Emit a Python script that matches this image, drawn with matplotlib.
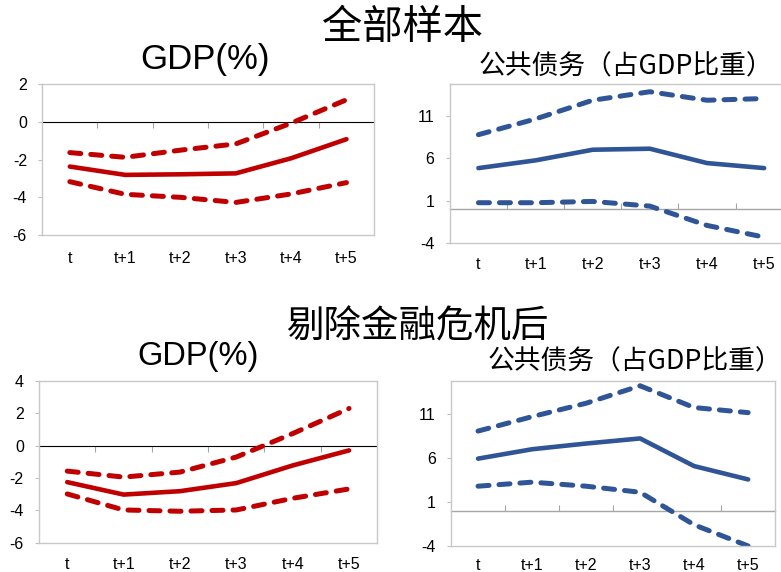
#Impulse responses of GDP and public debt, full sample and excluding financial crises.
#Each panel shows the point estimate (solid) and the confidence band (dashed).


import numpy as np
from matplotlib import pyplot as plt


#Horizon labels shared by all panels
horizons = ['t', 't+1', 't+2', 't+3', 't+4', 't+5']


#Full sample, GDP (%)
gdp_all_mid = [-2.37, -2.81, -2.78, -2.73, -1.93, -0.92]
gdp_all_hi = [-1.63, -1.88, -1.50, -1.17, -0.07, 1.17]
gdp_all_lo = [-3.17, -3.84, -4.00, -4.27, -3.82, -3.22]

#Full sample, public debt (% of GDP)
debt_all_mid = [4.82, 5.73, 6.98, 7.10, 5.41, 4.82]
debt_all_hi = [8.75, 10.6, 12.8, 13.8, 12.8, 13.0]
debt_all_lo = [0.75, 0.75, 0.90, 0.35, -1.92, -3.30]

#Excluding financial crises, GDP (%)
gdp_ex_mid = [-2.25, -3.02, -2.81, -2.31, -1.22, -0.29]
gdp_ex_hi = [-1.57, -1.94, -1.63, -0.70, 0.75, 2.30]
gdp_ex_lo = [-2.98, -3.97, -4.05, -3.97, -3.25, -2.67]

#Excluding financial crises, public debt (% of GDP)
debt_ex_mid = [5.95, 7.02, 7.67, 8.25, 5.10, 3.58]
debt_ex_hi = [9.09, 10.73, 12.26, 14.25, 11.77, 11.19]
debt_ex_lo = [2.81, 3.27, 2.81, 2.12, -1.59, -4.00]


#Y axis settings for each panel
gdp_all_ticks = [-6, -4, -2, 0, 2]
gdp_ex_ticks = [-6, -4, -2, 0, 2, 4]
debt_ticks = [-4, 1, 6, 11]


RED = '#c00000'
BLUE = '#2f5597'
LATIN = ['Liberation Sans', 'Noto Sans CJK SC']
CJK = ['Noto Sans CJK SC', 'DejaVu Sans']



def Panel(fig, rect, mid, hi, lo, color, yticks, ylim, xpad):

    ax = fig.add_axes(rect)
    x = np.arange(len(horizons))

    #Confidence band first, then the point estimate on top
    for band in (hi, lo):
        ax.plot(x, band, color=color, lw=3.6, dashes=(2.2, 2.0),
                dash_capstyle='round', dash_joinstyle='round')
    ax.plot(x, mid, color=color, lw=3.3, solid_capstyle='round',
            solid_joinstyle='round')

    ax.set_xlim(-0.5, len(horizons) - 0.5)
    ax.set_ylim(*ylim)

    #Category labels along the bottom, no tick marks
    ax.set_xticks(x)
    ax.set_xticklabels(horizons, family=LATIN, fontsize=11.5)
    ax.tick_params(axis='x', length=0, pad=xpad)

    ax.set_yticks(yticks)
    ax.set_yticklabels([str(v) for v in yticks], family=LATIN, fontsize=11.5)
    ax.tick_params(axis='y', length=3, width=0.8, color='#bfbfbf', pad=8)

    for s in ax.spines.values():
        s.set_color('#c8c8c8')
        s.set_linewidth(1.0)

    #Category axis crossing at zero, with small ticks between categories
    zero = (0 - ylim[0]) / (ylim[1] - ylim[0])
    sec = ax.secondary_xaxis(zero)
    sec.set_xticks(x[:-1] + 0.5)
    sec.set_xticklabels([])
    sec.tick_params(direction='in', length=4, width=0.8, color='#a6a6a6')
    sec.spines['bottom'].set_color('#a6a6a6')
    sec.spines['bottom'].set_linewidth(1.0)

    return ax



fig = plt.figure(figsize=(7.81, 5.72), dpi=100)


#Top row: full sample
Panel(fig, [0.054, 0.589, 0.425, 0.264], gdp_all_mid, gdp_all_hi, gdp_all_lo,
      RED, gdp_all_ticks, (-6, 2), 11.5)
Panel(fig, [0.576, 0.575, 0.439, 0.278], debt_all_mid, debt_all_hi, debt_all_lo,
      BLUE, debt_ticks, (-4, 14.7), 10)

#Bottom row: excluding financial crises
Panel(fig, [0.050, 0.051, 0.433, 0.283], gdp_ex_mid, gdp_ex_hi, gdp_ex_lo,
      RED, gdp_ex_ticks, (-6, 4), 10)
Panel(fig, [0.5775, 0.0455, 0.415, 0.2885], debt_ex_mid, debt_ex_hi, debt_ex_lo,
      BLUE, debt_ticks, (-4, 14.8), 8.5)


#Section headings and panel titles
fig.text(402 / 781, 1 - 27 / 572, '全部样本', family=CJK, fontsize=29,
         ha='center', va='center')
fig.text(205 / 781, 1 - 60 / 572, 'GDP(%)', family=LATIN, fontsize=25,
         ha='center', va='center')
fig.text(626 / 781, 1 - 67 / 572, '公共债务（占GDP比重）', family=CJK, fontsize=19.3,
         ha='center', va='center')

fig.text(417 / 781, 1 - 327 / 572, '剔除金融危机后', family=CJK, fontsize=27,
         ha='center', va='center')
fig.text(198 / 781, 1 - 356 / 572, 'GDP(%)', family=LATIN, fontsize=23.5,
         ha='center', va='center')
fig.text(635 / 781, 1 - 362 / 572, '公共债务（占GDP比重）', family=CJK, fontsize=19.3,
         ha='center', va='center')


plt.savefig('out.png', dpi=100)
